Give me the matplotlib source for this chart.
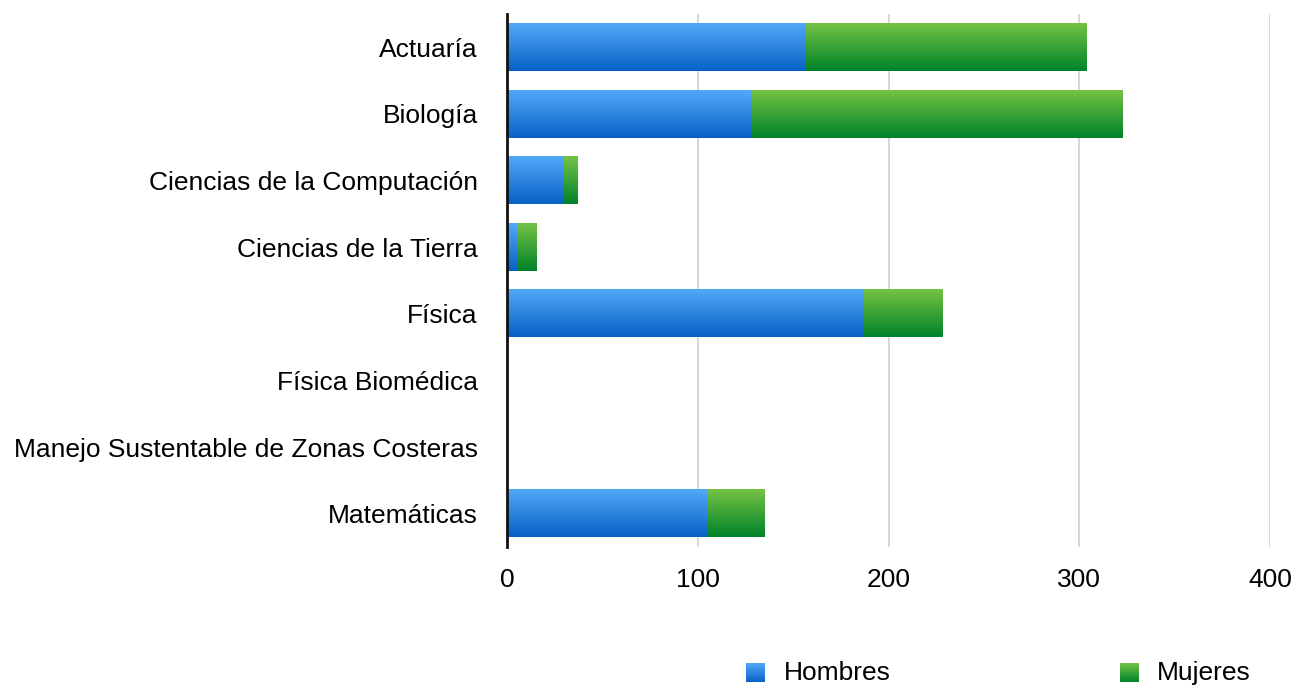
import numpy as np
import matplotlib
matplotlib.use("Agg")
import matplotlib.pyplot as plt
from matplotlib.colors import to_rgb

categories = ["Actuaría", "Biología", "Ciencias de la Computación", "Ciencias de la Tierra",
              "Física", "Física Biomédica", "Manejo Sustentable de Zonas Costeras", "Matemáticas"]
hombres = [157, 128, 30, 5, 187, 0, 0, 105]
mujeres = [147, 195, 7, 10, 41, 0, 0, 30]
series_names = ["Hombres", "Mujeres"]
xticks = [0, 100, 200, 300, 400]

blue_top, blue_bot = "#52A8F8", "#0862C6"
green_top, green_bot = "#74C244", "#00832A"

plt.rcParams['font.family'] = ['Liberation Sans', 'DejaVu Sans']

W, H = 1302, 697
fig = plt.figure(figsize=(W / 100, H / 100), dpi=100)
ax = fig.add_axes([507 / W, 1 - 547 / H, (1270 - 507) / W, (547 - 14) / H])

def grad(top, bot, n=64):
    t = np.linspace(0, 1, n)[:, None]
    a, b = np.array(to_rgb(top)), np.array(to_rgb(bot))
    return (a[None, :] * (1 - t) + b[None, :] * t)[:, None, :]

y = np.arange(len(categories))
bh = 0.71
bars_h = ax.barh(y, hombres, height=bh, color=blue_bot, linewidth=0, zorder=2)
bars_m = ax.barh(y, mujeres, left=hombres, height=bh, color=green_bot, linewidth=0, zorder=2)

for bars, (ct, cb) in ((bars_h, (blue_top, blue_bot)), (bars_m, (green_top, green_bot))):
    for r in bars:
        x0, w = r.get_x(), r.get_width()
        if w <= 0:
            continue
        yc = r.get_y() + r.get_height() / 2
        ax.imshow(grad(ct, cb), extent=(x0, x0 + w, yc + bh / 2, yc - bh / 2),
                  origin='upper', aspect='auto', zorder=3, interpolation='bilinear')

ax.set_xlim(0, 400)
ax.set_ylim(len(categories) - 0.5, -0.5)
ax.set_xticks(xticks)
ax.set_xticklabels([str(v) for v in xticks], fontsize=19)
ax.set_yticks(y)
ax.set_yticklabels(categories, fontsize=19)
ax.tick_params(axis='both', length=0)
ax.tick_params(axis='x', pad=15)
ax.tick_params(axis='y', pad=21)
ax.grid(axis='x', color='#cfcfcf', linewidth=1.2, zorder=0)
ax.set_axisbelow(True)
for s in ['top', 'right', 'bottom']:
    ax.spines[s].set_visible(False)
ax.spines['left'].set_linewidth(2)
ax.spines['left'].set_color('#111111')
ax.spines['left'].set_zorder(5)

# legend
for (sx, tx), name, (ct, cb) in zip([(746, 784), (1120, 1157)], series_names,
                                    [(blue_top, blue_bot), (green_top, green_bot)]):
    lax = fig.add_axes([sx / W, 1 - 682 / H, 19 / W, 19 / H])
    lax.imshow(grad(ct, cb), aspect='auto', interpolation='bilinear')
    lax.axis('off')
    fig.text(tx / W, 1 - 673 / H, name, fontsize=19, va='center', ha='left')

fig.savefig("out.png", dpi=100)
